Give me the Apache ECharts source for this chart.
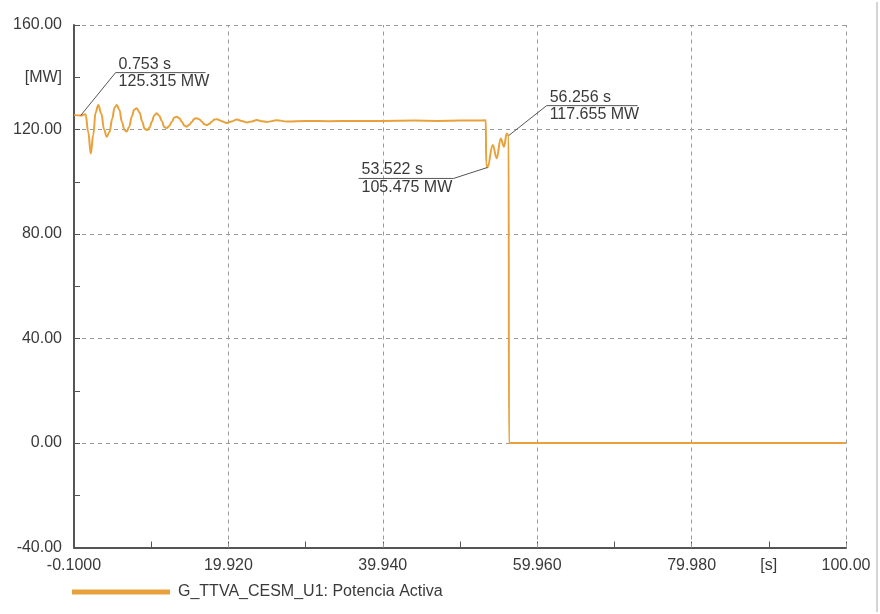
<!DOCTYPE html>
<html><head><meta charset="utf-8">
<script src="https://cdn.jsdelivr.net/npm/echarts@6/dist/echarts.min.js"></script>
<style>html,body{margin:0;padding:0;background:#fff;}#c{width:880px;height:614px;}</style>
</head><body><div id="c"></div>
<script>
// ---- data ----
const seriesName = 'G_TTVA_CESM_U1: Potencia Activa';
const timeS = [-0.1, 0.753, 1.4, 1.75, 2.07, 2.4, 2.7, 3.05, 3.45, 3.8, 4.14, 4.5, 4.85, 5.15, 5.44, 5.8, 6.1, 6.45, 6.73, 7.05, 7.4, 7.7, 8.03, 8.4, 8.75, 9.05, 9.4, 9.7, 10.0, 10.3, 10.62, 10.95, 11.3, 11.6, 11.92, 12.25, 12.6, 12.9, 13.22, 13.55, 13.9, 14.2, 14.51, 14.85, 15.2, 15.5, 15.81, 16.15, 16.5, 16.8, 17.11, 17.45, 17.8, 18.1, 18.4, 19.05, 19.7, 20.35, 21.0, 21.65, 22.3, 22.95, 23.6, 24.25, 24.9, 26.2, 27.5, 30, 33, 36, 40, 44, 47, 50, 52, 53.3, 53.34, 53.522, 54.19, 54.71, 55.23, 55.66, 56.0, 56.256, 56.3, 100];
const powerMW = [125.6, 125.315, 125.8, 119, 110.8, 118, 126.5, 129.4, 126, 120, 117.2, 119, 124, 128.3, 129.4, 127.5, 123, 119.8, 119.2, 121, 125, 127.6, 128.1, 126.5, 123, 120.3, 119.8, 120.8, 123, 125.4, 126.2, 125.3, 123.2, 121, 120.5, 121.3, 123, 124.6, 124.9, 124.3, 123, 121.5, 121.1, 121.8, 123, 124.1, 124.3, 123.9, 123, 122, 121.7, 122.2, 123.1, 123.8, 123.9, 123.2, 122.5, 123.1, 123.8, 123.3, 122.7, 123.1, 123.6, 123.2, 122.9, 123.5, 123.1, 123.3, 123.2, 123.3, 123.3, 123.4, 123.3, 123.4, 123.4, 123.5, 107.0, 105.475, 114.1, 109.0, 116.6, 113.4, 118.5, 117.655, 0, 0];
const xTickValues = [-0.1, 9.91, 19.92, 29.93, 39.94, 49.95, 59.96, 69.97, 79.98, 89.99, 100];
const xLabelValues = [-0.1, 19.92, 39.94, 59.96, 79.98, 89.99, 100];
const xLabelTexts = ['-0.1000', '19.920', '39.940', '59.960', '79.980', '[s]', '100.00'];
const xGridValues = [19.92, 39.94, 59.96, 79.98, 100];
const yLabelValues = [-40, 0, 40, 80, 120, 140, 160];
const yLabelTexts = ['-40.00', '0.00', '40.00', '80.00', '120.00', '[MW]', '160.00'];
const annTime = [0.753, 53.522, 56.256];
const annValue = [125.315, 105.475, 117.655];
const annTimeText = ['0.753 s', '53.522 s', '56.256 s'];
const annValueText = ['125.315 MW', '105.475 MW', '117.655 MW'];
// ---- layout for annotation callouts (pixel offsets) ----
const annLayout = [{dx: 35, dy: -43, len: 90, dir: 1}, {dx: -34, dy: 11, len: 95, dir: -1}, {dx: 38, dy: -30, len: 91, dir: 1}];

const FONT = 'Liberation Sans, Arial, sans-serif';
const TXT = '#3a3a3a';
const AX = '#555';
const GRIDC = '#9a9a9a';
const LINEC = '#E9A23B';

const chart = echarts.init(document.getElementById('c'), null, {renderer: 'canvas'});
const seriesData = timeS.map((t, i) => [t, powerMW[i]]);
function pick(vals, texts, v) {
  for (let i = 0; i < vals.length; i++) if (Math.abs(vals[i] - v) < 1e-6) return texts[i];
  return '';
}
chart.setOption({
  animation: false,
  backgroundColor: '#fff',
  grid: {left: 74, right: 34, top: 25, bottom: 66.5, containLabel: false},
  xAxis: {
    type: 'value', min: -0.1, max: 100,
    axisLine: {onZero: false, lineStyle: {color: AX, width: 2}},
    axisTick: {inside: true, length: 6, customValues: xTickValues, lineStyle: {color: AX, width: 1}},
    axisLabel: {customValues: xLabelValues, formatter: v => pick(xLabelValues, xLabelTexts, v), color: TXT, fontSize: 16, fontFamily: FONT, margin: 10},
    splitLine: {show: false}
  },
  yAxis: {
    type: 'value', min: -40, max: 160, interval: 40,
    axisLine: {show: true, onZero: false, lineStyle: {color: AX, width: 2}},
    axisTick: {show: true, inside: true, length: 6, lineStyle: {color: AX, width: 1}},
    minorTick: {show: true, splitNumber: 2, length: 6, lineStyle: {color: AX, width: 1}},
    axisLabel: {customValues: yLabelValues, formatter: v => pick(yLabelValues, yLabelTexts, v), color: TXT, fontSize: 16, fontFamily: FONT, margin: 12},
    splitLine: {show: true, lineStyle: {color: GRIDC, width: 1, type: [4, 4]}}
  },
  legend: {
    data: [seriesName], left: 72, top: 584, padding: 0, icon: 'rect', itemWidth: 98, itemHeight: 5, itemGap: 10,
    textStyle: {color: TXT, fontSize: 16, fontFamily: FONT, padding: [0, 0, 0, 3]}
  },
  series: [{
    name: seriesName, type: 'line', data: seriesData, showSymbol: false, smooth: 0.4, smoothMonotone: 'x',
    lineStyle: {color: LINEC, width: 2}, itemStyle: {color: LINEC},
    markLine: {
      silent: true, symbol: ['none', 'none'], label: {show: false}, z: 1,
      lineStyle: {color: GRIDC, width: 1, type: [4, 4]},
      emphasis: {disabled: true},
      data: xGridValues.map(v => ({xAxis: v}))
    }
  }]
});

const graphics = [{type: 'line', shape: {x1: 877, y1: 2, x2: 877, y2: 612}, style: {stroke: '#aaa', lineWidth: 1}}];
annTime.forEach((t, i) => {
  const p = chart.convertToPixel({xAxisIndex: 0, yAxisIndex: 0}, [t, annValue[i]]);
  const L = annLayout[i];
  const ex = p[0] + L.dx, ey = p[1] + L.dy;
  const endX = ex + L.dir * L.len;
  graphics.push({type: 'polyline', shape: {points: [[p[0], p[1]], [ex, ey], [endX, ey]]}, style: {stroke: '#555', lineWidth: 1, fill: null}, z: 10});
  const tx = Math.min(ex, endX) + 3;
  graphics.push({type: 'text', x: tx, y: ey - 8.5, style: {text: annTimeText[i], font: '16px ' + FONT, fill: TXT, align: 'left', verticalAlign: 'middle', textAlign: 'left', textVerticalAlign: 'middle'}, z: 10});
  graphics.push({type: 'text', x: tx, y: ey + 9, style: {text: annValueText[i], font: '16px ' + FONT, fill: TXT, align: 'left', verticalAlign: 'middle', textAlign: 'left', textVerticalAlign: 'middle'}, z: 10});
});
chart.setOption({graphic: graphics});
</script>
</body></html>
